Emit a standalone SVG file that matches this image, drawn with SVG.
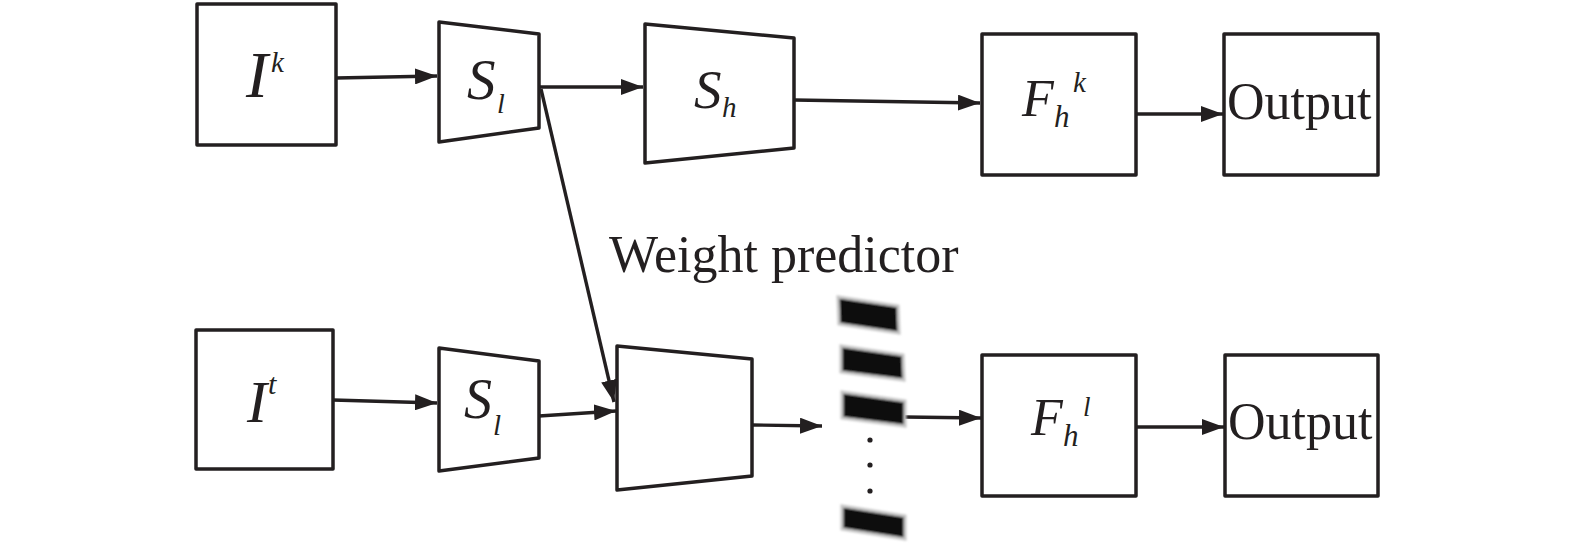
<svg xmlns="http://www.w3.org/2000/svg" width="1575" height="549" viewBox="0 0 1575 549">
<style>
.box{fill:#fff;stroke:#231f20;stroke-width:3.5;stroke-linejoin:round}
.ln{fill:none;stroke:#231f20;stroke-width:3.4}
.m{font-family:"Liberation Serif","Times New Roman",serif;font-style:italic;fill:#231f20}
.t{font-family:"Liberation Serif","Times New Roman",serif;fill:#231f20}
.bar{fill:#111;stroke:#c4c4c4;stroke-width:3}
</style>
<defs>
<marker id="ah" markerUnits="userSpaceOnUse" markerWidth="24" markerHeight="16" refX="22" refY="8" orient="auto">
<path d="M0,0 L22,8 L0,16 z" fill="#231f20"/>
</marker>
<filter id="bl" x="-20%" y="-20%" width="140%" height="140%"><feGaussianBlur stdDeviation="0.8"/></filter>
</defs>
<rect width="1575" height="549" fill="#fff"/>
<g id="connectors">
<line class="ln" x1="336" y1="78" x2="437" y2="76" marker-end="url(#ah)"/>
<line class="ln" x1="539" y1="87" x2="643" y2="87" marker-end="url(#ah)"/>
<line class="ln" x1="541" y1="89" x2="614" y2="402" marker-end="url(#ah)"/>
<line class="ln" x1="794" y1="100" x2="980" y2="103" marker-end="url(#ah)"/>
<line class="ln" x1="1136" y1="114" x2="1223" y2="114" marker-end="url(#ah)"/>
<line class="ln" x1="333" y1="400" x2="437" y2="403" marker-end="url(#ah)"/>
<line class="ln" x1="539" y1="416" x2="616" y2="411" marker-end="url(#ah)"/>
<line class="ln" x1="752" y1="425" x2="822" y2="426" marker-end="url(#ah)"/>
<line class="ln" x1="905" y1="417" x2="981" y2="418" marker-end="url(#ah)"/>
<line class="ln" x1="1136" y1="427" x2="1224" y2="427" marker-end="url(#ah)"/>
</g>
<g id="node-Ik">
<rect class="box" x="197" y="4" width="139" height="141"/>
<text class="m" x="246" y="97" font-size="66">I</text>
<text class="m" x="271" y="72" font-size="29">k</text>
</g>
<g id="node-Sl-top">
<polygon class="box" points="439,22 539,34 539,128 439,142"/>
<text class="m" x="467" y="99" font-size="57">S</text>
<text class="m" x="497" y="113" font-size="28">l</text>
</g>
<g id="node-Sh">
<polygon class="box" points="645,24 794,38 794,148 645,163"/>
<text class="m" x="694" y="108" font-size="55">S</text>
<text class="m" x="722" y="117" font-size="29">h</text>
</g>
<g id="node-Fhk">
<rect class="box" x="982" y="34" width="154" height="141"/>
<text class="m" x="1022" y="116" font-size="52">F</text>
<text class="m" x="1054" y="127" font-size="31">h</text>
<text class="m" x="1073" y="92" font-size="29">k</text>
</g>
<g id="node-Output-top">
<rect class="box" x="1224" y="34" width="154" height="141"/>
<text class="t" x="1227" y="119" font-size="52">Output</text>
</g>
<g id="node-It">
<rect class="box" x="196" y="330" width="137" height="139"/>
<text class="m" x="247" y="422" font-size="60">I</text>
<text class="m" x="268" y="394" font-size="30">t</text>
</g>
<g id="node-Sl-bottom">
<polygon class="box" points="439,348 539,361 539,458 439,471"/>
<text class="m" x="464" y="418" font-size="56">S</text>
<text class="m" x="493" y="435" font-size="29">l</text>
</g>
<g id="node-weight-predictor">
<polygon class="box" points="617,346 752,359 752,476 617,490"/>
<text class="t" x="609" y="272" font-size="52">Weight predictor</text>
</g>
<g id="node-weights">
<g filter="url(#bl)">
<polygon class="bar" points="838,297 898,306 899,333 839,324"/>
<polygon class="bar" points="841,346 903,355 904,380 841,372"/>
<polygon class="bar" points="842,392 905,401 905,426 842,418"/>
<polygon class="bar" points="842,506 905,516 905,539 842,529"/>
</g>
<circle cx="870" cy="440" r="2.6" fill="#231f20"/>
<circle cx="870" cy="465" r="2.6" fill="#231f20"/>
<circle cx="870" cy="491" r="2.6" fill="#231f20"/>
</g>
<g id="node-Fhl">
<rect class="box" x="982" y="355" width="154" height="141"/>
<text class="m" x="1031" y="435" font-size="52">F</text>
<text class="m" x="1063" y="446" font-size="31">h</text>
<text class="m" x="1083" y="416" font-size="27">l</text>
</g>
<g id="node-Output-bottom">
<rect class="box" x="1225" y="355" width="153" height="141"/>
<text class="t" x="1228" y="439" font-size="52">Output</text>
</g>
</svg>
